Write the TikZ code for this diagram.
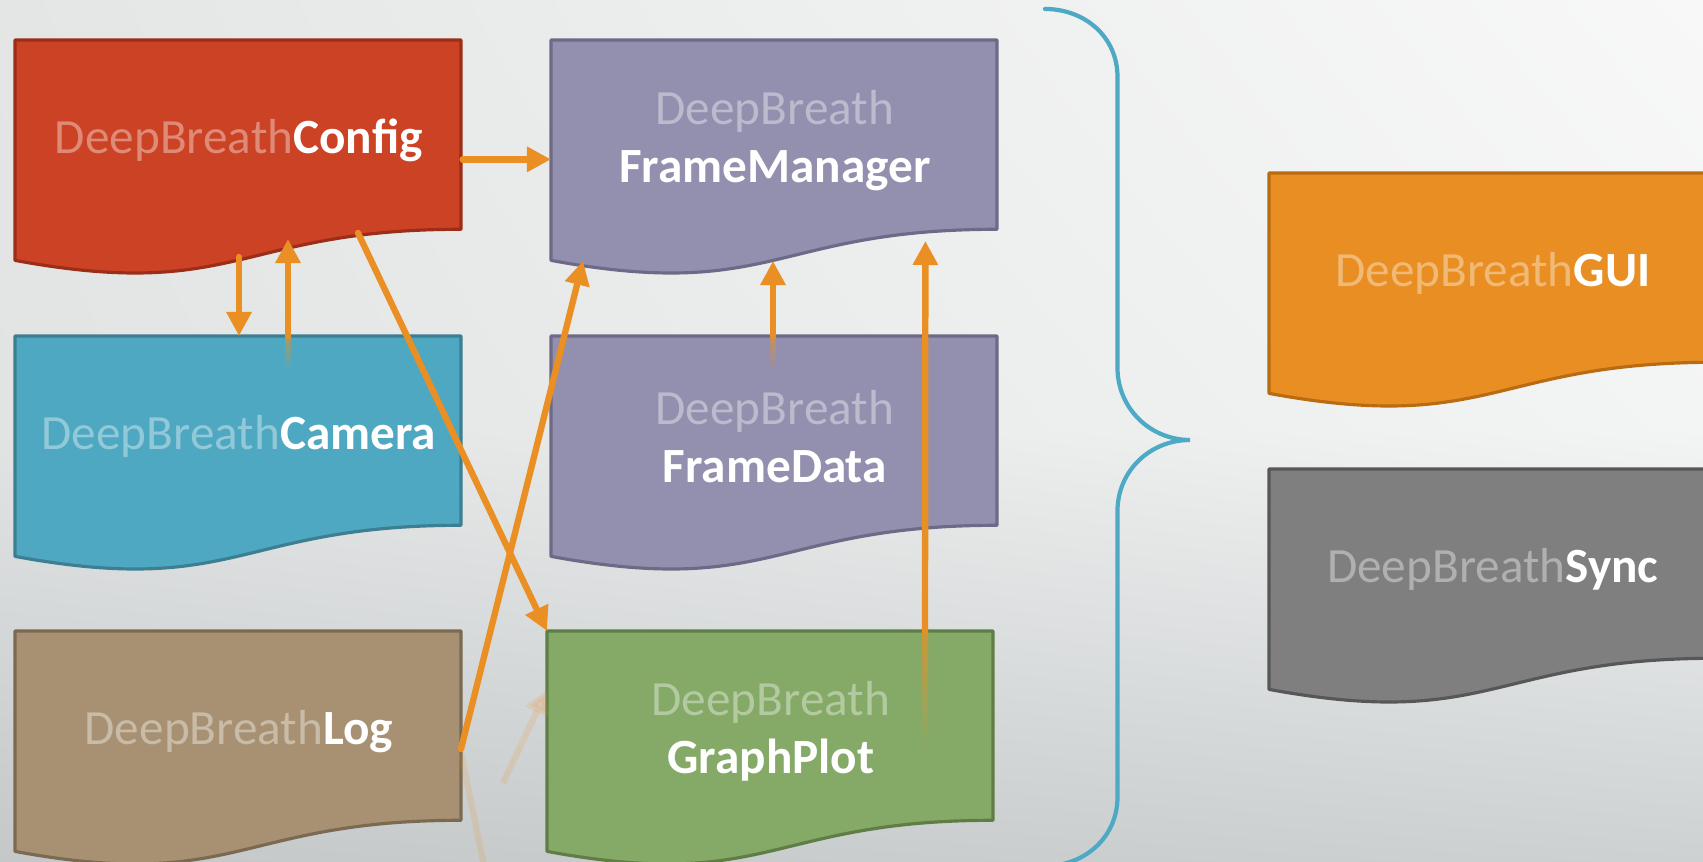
\documentclass[tikz,border=0pt]{standalone}
\usepackage{fontspec}
\setmainfont{Carlito}
\usetikzlibrary{arrows.meta,calc,shadings}

\definecolor{cfgfill}{HTML}{CC4224}
\definecolor{cfgline}{HTML}{9C2D16}
\definecolor{mgrfill}{HTML}{938FAE}
\definecolor{mgrline}{HTML}{6D6986}
\definecolor{camfill}{HTML}{4FA8C1}
\definecolor{camline}{HTML}{3C7F92}
\definecolor{logfill}{HTML}{A79172}
\definecolor{logline}{HTML}{7B6A51}
\definecolor{gpfill}{HTML}{85AA67}
\definecolor{gpline}{HTML}{5E7E45}
\definecolor{guifill}{HTML}{E98E22}
\definecolor{guiline}{HTML}{B96B12}
\definecolor{syncfill}{HTML}{7F7F7F}
\definecolor{syncline}{HTML}{575757}
\definecolor{arrowc}{HTML}{EA8F23}
\definecolor{bracec}{HTML}{4DA9C4}
\definecolor{bgTL}{HTML}{E4E6E6}
\definecolor{bgTR}{HTML}{F8F8F8}
\definecolor{bgML}{HTML}{E2E4E4}
\definecolor{bgMR}{HTML}{F3F4F4}
\definecolor{bgBL}{HTML}{C4C8C9}
\definecolor{bgBR}{HTML}{CDD1D2}

% faded first word of a module name
\newcommand\pfx[2]{{\color{white!38!#1}#2}}

% wavy "document" box: name, x, y (top left), fill, border, label
\newcommand\docbox[6]{%
  \filldraw[fill=#4, draw=#5, line width=0.9pt, line join=round]
    (#2,#3) -- ({#2+446},#3) -- ({#2+446},{#3+189.3})
    .. controls ({#2+223},{#3+189.3}) and ({#2+223},{#3+261.4}) .. (#2,{#3+220.4}) -- cycle;
  \node[docnode] (#1) at (#2,#3) {#6};
}

\tikzset{
  docnode/.style={minimum width=4.46cm, minimum height=2.0cm, inner sep=0pt,
    anchor=north west, align=center, text=white,
    font=\fontsize{14pt}{16.5pt}\selectfont},
  link/.style={draw=arrowc, line width=1.8pt, line cap=round,
    -{Triangle[length=0.24cm,width=0.24cm]}},
  ghost/.style={draw=arrowc, line width=1.8pt, opacity=0.16},
}

\begin{document}
\begin{tikzpicture}[x=0.01cm,y=-0.01cm]
\useasboundingbox (0,0) rectangle (1703,862);
\clip (0,0) rectangle (1703,862);

% background
\shade[upper left=bgTL, upper right=bgTR, lower left=bgML, lower right=bgMR]
  (0,0) rectangle (1703,431);
\shade[upper left=bgML, upper right=bgMR, lower left=bgBL, lower right=bgBR]
  (0,430) rectangle (1703,862);

% modules
\docbox{cfg}{15}{40}{cfgfill}{cfgline}{\pfx{cfgfill}{DeepBreath}\textbf{Config}}
\docbox{fm}{551}{40}{mgrfill}{mgrline}{\pfx{mgrfill}{DeepBreath}\\\textbf{FrameManager}}
\docbox{cam}{15}{336}{camfill}{camline}{\pfx{camfill}{DeepBreath}\textbf{Camera}}
\docbox{fd}{551}{336}{mgrfill}{mgrline}{\pfx{mgrfill}{DeepBreath}\\\textbf{FrameData}}
\docbox{log}{15}{631}{logfill}{logline}{\pfx{logfill}{DeepBreath}\textbf{Log}}
\docbox{gp}{547}{631}{gpfill}{gpline}{\pfx{gpfill}{DeepBreath}\\\textbf{GraphPlot}}
\docbox{gui}{1269}{173}{guifill}{guiline}{\pfx{guifill}{DeepBreath}\textbf{GUI}}
\docbox{sync}{1269}{469}{syncfill}{syncline}{\pfx{syncfill}{DeepBreath}\textbf{Sync}}

% brace grouping the modules
\draw[bracec, line width=1.2pt, line cap=round]
  (1045,9) .. controls (1085,9) and (1117.5,37) .. (1117.5,77)
  -- (1117.5,368) .. controls (1117.5,408) and (1150,440) .. (1190,440)
  .. controls (1150,440) and (1117.5,471) .. (1117.5,511)
  -- (1117.5,797) .. controls (1117.5,837) and (1085,866) .. (1045,866);

% fading tails of the upward links
\shade[top color=arrowc!55!camfill, bottom color=camfill]
  ($(cam.north west)+(270,1)$) rectangle ($(cam.north west)+(276,34)$);
\shade[top color=arrowc!55!mgrfill, bottom color=mgrfill]
  ($(fd.north west)+(219,1)$) rectangle ($(fd.north west)+(225,34)$);
\shade[top color=arrowc!70!gpfill, bottom color=gpfill]
  ($(gp.north west)+(375,1)$) rectangle ($(gp.north west)+(381,115)$);

% reflections
\coordinate (rflA) at (486,875);
\coordinate (rflB) at (503,783);
\draw[ghost] ($(log.north west)+(446,122)$) -- (rflA);
\draw[ghost, -{Triangle[length=0.24cm,width=0.24cm]}] (rflB) -- ($(gp.north west)+(0,59)$);

% links
\draw[link] ([yshift=-0.186cm]cfg.east) -- ([yshift=-0.186cm]fm.west);
\draw[link] ($(cfg.north west)+(224,217)$) -- ($(cam.north west)+(224,0)$);
\draw[link] ($(cam.north west)+(273,0)$) -- ($(cfg.north west)+(273,199)$);
\draw[link] ($(cfg.north west)+(343,193)$) -- (gp.north west);
\draw[link] ($(log.north west)+(446,118)$) -- ($(fm.north west)+(32,221)$);
\draw[link] ($(fd.north west)+(222,0)$) -- ($(fm.north west)+(222,221)$);
\draw[link] ($(gp.north west)+(378,0)$) -- ($(fm.north west)+(374.4,201)$);
\end{tikzpicture}
\end{document}
